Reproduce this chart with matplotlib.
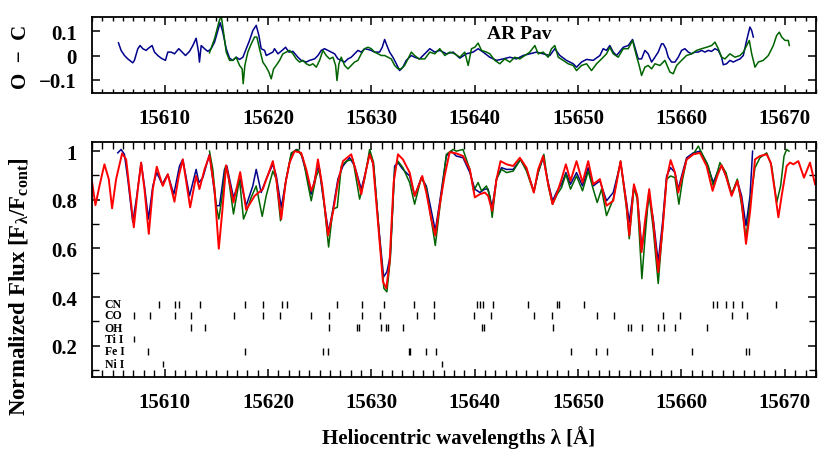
import numpy as np
import matplotlib
matplotlib.use("Agg")
import matplotlib.pyplot as plt
from matplotlib.ticker import MultipleLocator

# ---- data ---------------------------------------------------------------
# synthetic spectrum (red)
model = [(15603.00, 0.871), (15603.32, 0.778), (15603.71, 0.857), (15604.19, 0.946), (15604.61, 0.885),
         (15604.93, 0.765), (15605.32, 0.885), (15605.90, 0.991), (15606.29, 0.966), (15606.61, 0.844),
         (15607.03, 0.687), (15607.42, 0.844), (15607.74, 0.953), (15608.06, 0.844), (15608.48, 0.660),
         (15608.87, 0.844), (15609.25, 0.936), (15609.83, 0.857), (15610.32, 0.905), (15610.96, 0.792),
         (15611.38, 0.898), (15611.77, 0.966), (15612.48, 0.769), (15613.06, 0.898), (15613.38, 0.844),
         (15613.87, 0.925), (15614.35, 0.983), (15614.83, 0.844), (15615.25, 0.599), (15615.58, 0.749),
         (15615.96, 0.942), (15616.67, 0.789), (15617.32, 0.914), (15617.90, 0.759), (15618.71, 0.816),
         (15619.51, 0.844), (15620.48, 0.959), (15620.81, 0.885), (15621.29, 0.721), (15621.71, 0.871),
         (15622.10, 0.953), (15622.58, 1.000), (15623.22, 0.993), (15623.71, 0.925), (15624.19, 0.837),
         (15624.51, 0.871), (15624.84, 0.966), (15625.26, 0.857), (15625.81, 0.653), (15626.29, 0.748),
         (15626.77, 0.871), (15627.26, 0.959), (15628.06, 0.987), (15628.55, 0.912), (15629.03, 0.823),
         (15629.51, 0.925), (15629.84, 0.987), (15630.16, 0.953), (15630.64, 0.708), (15631.13, 0.463),
         (15631.45, 0.436), (15631.77, 0.544), (15632.16, 0.871), (15632.58, 0.987), (15633.06, 0.966),
         (15633.71, 0.912), (15634.19, 0.816), (15634.51, 0.850), (15634.93, 0.898), (15635.32, 0.830),
         (15635.80, 0.721), (15636.19, 0.653), (15636.61, 0.776), (15637.09, 0.898), (15637.58, 0.996),
         (15638.22, 0.991), (15638.87, 0.980), (15639.53, 0.925), (15640.01, 0.810), (15640.50, 0.823),
         (15640.98, 0.830), (15641.30, 0.816), (15641.69, 0.755), (15642.11, 0.885), (15642.50, 0.959),
         (15643.08, 0.946), (15643.72, 0.939), (15644.37, 0.973), (15645.01, 0.932), (15645.72, 0.830),
         (15646.14, 0.925), (15646.62, 0.980), (15647.01, 0.885), (15647.53, 0.782), (15647.98, 0.830),
         (15648.40, 0.885), (15648.82, 0.946), (15649.27, 0.878), (15649.85, 0.959), (15650.43, 0.871),
         (15650.98, 0.959), (15651.46, 0.864), (15652.11, 0.885), (15652.75, 0.776), (15653.40, 0.796),
         (15654.11, 0.959), (15654.69, 0.776), (15654.95, 0.653), (15655.40, 0.864), (15655.72, 0.816),
         (15656.14, 0.585), (15656.46, 0.708), (15656.88, 0.844), (15657.27, 0.708), (15657.75, 0.503),
         (15658.17, 0.680), (15658.56, 0.885), (15658.95, 0.963), (15659.37, 0.912), (15659.69, 0.830),
         (15660.01, 0.885), (15660.50, 0.966), (15661.14, 0.987), (15661.79, 0.993), (15662.43, 0.939),
         (15663.01, 0.837), (15663.46, 0.898), (15663.88, 0.942), (15664.30, 0.898), (15664.85, 0.816),
         (15665.40, 0.878), (15665.82, 0.796), (15666.24, 0.619), (15666.63, 0.749), (15667.11, 0.966),
         (15667.59, 0.980), (15668.24, 0.987), (15668.63, 0.953), (15669.05, 0.830), (15669.37, 0.728),
         (15669.69, 0.816), (15670.17, 0.939), (15670.50, 0.953), (15670.82, 0.946), (15671.30, 0.959),
         (15671.85, 0.891), (15672.43, 0.953), (15672.92, 0.864)]

# observed spectrum 1 (blue)
obs_blue = [(15605.48, 0.993), (15605.80, 1.007), (15606.12, 0.987), (15606.45, 0.885), (15606.93, 0.708),
            (15607.32, 0.816), (15607.74, 0.953), (15608.06, 0.857), (15608.45, 0.721), (15608.87, 0.857),
            (15609.25, 0.912), (15609.77, 0.864), (15610.32, 0.905), (15610.90, 0.823), (15611.45, 0.939),
            (15611.77, 0.966), (15612.42, 0.816), (15613.06, 0.925), (15613.32, 0.871), (15613.71, 0.891),
            (15614.35, 0.987), (15615.00, 0.776), (15615.32, 0.776), (15615.80, 0.925), (15616.03, 0.939),
            (15616.67, 0.810), (15617.32, 0.885), (15617.90, 0.776), (15618.54, 0.857), (15618.87, 0.925),
            (15619.35, 0.830), (15619.83, 0.885), (15620.48, 0.946), (15620.81, 0.900), (15621.29, 0.769),
            (15621.77, 0.885), (15622.26, 0.987), (15622.74, 1.007), (15623.22, 0.987), (15623.71, 0.912),
            (15624.19, 0.823), (15624.68, 0.912), (15624.93, 0.939), (15625.32, 0.816), (15625.87, 0.667),
            (15626.29, 0.762), (15626.77, 0.885), (15627.26, 0.939), (15627.90, 0.973), (15628.39, 0.939),
            (15629.03, 0.844), (15629.51, 0.925), (15629.84, 0.993), (15630.22, 0.939), (15630.74, 0.680),
            (15631.19, 0.483), (15631.51, 0.504), (15631.84, 0.572), (15632.26, 0.939), (15632.58, 0.953),
            (15633.06, 0.925), (15633.71, 0.898), (15634.19, 0.816), (15634.84, 0.891), (15635.32, 0.857),
            (15636.19, 0.674), (15636.61, 0.789), (15637.26, 0.980), (15637.74, 1.000), (15638.22, 0.980),
            (15638.87, 0.973), (15639.53, 0.912), (15640.01, 0.844), (15640.50, 0.830), (15640.98, 0.844),
            (15641.30, 0.844), (15641.69, 0.769), (15642.11, 0.885), (15642.59, 0.932), (15643.08, 0.925),
            (15643.72, 0.925), (15644.43, 0.966), (15645.01, 0.925), (15645.72, 0.837), (15646.14, 0.912),
            (15646.62, 0.973), (15647.11, 0.871), (15647.53, 0.796), (15647.98, 0.837), (15648.40, 0.864),
            (15648.82, 0.912), (15649.27, 0.864), (15649.85, 0.912), (15650.43, 0.857), (15650.98, 0.932),
            (15651.46, 0.857), (15652.11, 0.878), (15652.75, 0.796), (15653.40, 0.830), (15654.11, 0.953),
            (15654.69, 0.789), (15654.95, 0.708), (15655.40, 0.857), (15655.72, 0.816), (15656.17, 0.599),
            (15656.49, 0.694), (15656.85, 0.823), (15657.27, 0.721), (15657.75, 0.544), (15658.17, 0.708),
            (15658.56, 0.898), (15658.95, 0.932), (15659.37, 0.912), (15659.69, 0.844), (15660.01, 0.898),
            (15660.50, 0.973), (15661.14, 0.993), (15661.79, 1.000), (15662.43, 0.953), (15663.08, 0.871),
            (15663.46, 0.912), (15663.88, 0.939), (15664.30, 0.898), (15664.85, 0.823), (15665.40, 0.878),
            (15665.82, 0.816), (15666.24, 0.694), (15666.63, 0.816), (15666.88, 1.000)]

# observed spectrum 2 (green)
obs_green = [(15614.35, 1.000), (15614.67, 0.925), (15615.00, 0.776), (15615.25, 0.721), (15615.58, 0.816),
             (15615.90, 0.939), (15616.12, 0.912), (15616.67, 0.742), (15617.09, 0.844), (15617.25, 0.885),
             (15617.64, 0.721), (15617.90, 0.748), (15618.38, 0.810), (15618.87, 0.857), (15619.45, 0.732),
             (15619.83, 0.816), (15620.48, 0.918), (15620.81, 0.885), (15621.22, 0.714), (15621.77, 0.885),
             (15622.26, 0.993), (15622.90, 1.007), (15623.39, 0.973), (15623.87, 0.864), (15624.19, 0.796),
             (15624.68, 0.898), (15625.00, 0.925), (15625.39, 0.803), (15625.87, 0.606), (15626.29, 0.762),
             (15626.71, 0.769), (15627.10, 0.939), (15627.58, 0.959), (15628.22, 0.966), (15628.87, 0.803),
             (15629.35, 0.885), (15629.84, 1.007), (15630.22, 0.953), (15630.80, 0.640), (15631.22, 0.436),
             (15631.51, 0.422), (15631.84, 0.558), (15632.26, 0.925), (15632.58, 0.959), (15633.06, 0.932),
             (15633.71, 0.871), (15634.19, 0.782), (15634.84, 0.891), (15635.32, 0.850), (15636.19, 0.612),
             (15636.61, 0.762), (15637.26, 0.987), (15637.90, 1.007), (15638.22, 1.000), (15638.87, 1.007),
             (15639.53, 0.925), (15639.91, 0.837), (15640.33, 0.871), (15640.66, 0.837), (15641.14, 0.857),
             (15641.46, 0.816), (15641.69, 0.728), (15642.11, 0.885), (15642.59, 0.925), (15643.08, 0.912),
             (15643.72, 0.918), (15644.43, 0.966), (15645.01, 0.918), (15645.72, 0.830), (15646.14, 0.912),
             (15646.69, 0.987), (15647.11, 0.857), (15647.53, 0.782), (15647.98, 0.823), (15648.40, 0.850),
             (15648.82, 0.905), (15649.27, 0.844), (15649.85, 0.898), (15650.43, 0.837), (15650.98, 0.918),
             (15651.46, 0.844), (15651.85, 0.789), (15652.27, 0.844), (15652.75, 0.735), (15653.40, 0.803),
             (15654.11, 0.959), (15654.69, 0.762), (15654.95, 0.640), (15655.40, 0.850), (15655.72, 0.803),
             (15656.17, 0.476), (15656.49, 0.653), (15656.85, 0.830), (15657.27, 0.680), (15657.75, 0.456),
             (15658.17, 0.680), (15658.56, 0.885), (15658.95, 0.898), (15659.37, 0.891), (15659.75, 0.782),
             (15660.11, 0.885), (15660.50, 0.966), (15661.14, 0.987), (15661.63, 1.021), (15662.11, 0.980),
             (15662.59, 0.939), (15663.08, 0.857), (15663.46, 0.912), (15663.72, 0.953), (15664.30, 0.912),
             (15664.85, 0.823), (15665.40, 0.885), (15665.82, 0.776), (15666.24, 0.640), (15666.63, 0.789),
             (15667.11, 0.932), (15667.59, 0.973), (15668.24, 0.993), (15668.72, 0.939), (15669.21, 0.789),
             (15669.59, 0.857), (15669.92, 0.980), (15670.17, 1.007), (15670.40, 1.000)]

# O - C residuals
oc_blue = [(15605.55, 0.052), (15605.80, 0.021), (15606.13, 0.000), (15606.45, -0.014), (15606.93, -0.030),
           (15607.09, -0.020), (15607.42, 0.028), (15607.64, 0.041), (15607.90, 0.028), (15608.22, 0.021),
           (15608.45, 0.030), (15608.80, 0.041), (15609.03, 0.014), (15609.35, 0.000), (15609.68, -0.011),
           (15610.09, -0.020), (15610.32, 0.014), (15610.64, 0.014), (15610.97, 0.007), (15611.38, 0.028),
           (15611.71, 0.014), (15612.03, 0.000), (15612.42, 0.017), (15612.74, 0.041), (15613.06, 0.071),
           (15613.29, 0.014), (15613.38, -0.027), (15613.55, 0.041), (15613.87, 0.028), (15614.19, 0.017),
           (15614.51, 0.028), (15614.84, 0.055), (15615.16, 0.103), (15615.38, 0.135), (15615.64, 0.096),
           (15615.97, 0.028), (15616.29, -0.011), (15616.61, -0.020), (15616.93, -0.007), (15617.26, -0.016),
           (15617.58, -0.007), (15617.90, 0.028), (15618.22, 0.062), (15618.55, 0.103), (15618.87, 0.124),
           (15619.13, 0.082), (15619.35, 0.028), (15619.68, 0.021), (15619.84, 0.000), (15620.16, 0.007),
           (15620.48, 0.014), (15620.64, 0.028), (15620.97, 0.007), (15621.38, 0.021), (15621.71, 0.034),
           (15622.03, 0.014), (15622.42, 0.017), (15622.90, -0.007), (15623.22, -0.020), (15623.71, -0.027),
           (15624.03, -0.020), (15624.51, -0.014), (15624.84, 0.000), (15625.16, 0.021), (15625.48, 0.028),
           (15625.80, 0.021), (15626.13, 0.014), (15626.45, 0.007), (15626.77, -0.014), (15627.09, -0.020),
           (15627.42, -0.027), (15627.74, -0.014), (15628.06, -0.007), (15628.38, 0.007), (15628.71, 0.021),
           (15629.03, 0.014), (15629.35, 0.028), (15629.68, 0.025), (15630.00, 0.021), (15630.32, 0.014),
           (15630.80, 0.014), (15631.06, 0.034), (15631.29, 0.066), (15631.51, 0.041), (15631.77, 0.014),
           (15632.09, -0.007), (15632.42, -0.034), (15632.74, -0.062), (15633.06, -0.048), (15633.38, -0.020),
           (15633.87, 0.000), (15634.19, -0.007), (15634.68, -0.014), (15635.17, 0.007), (15635.66, 0.028),
           (15636.14, 0.014), (15636.62, 0.021), (15637.27, 0.007), (15637.91, 0.014), (15638.56, -0.011),
           (15639.20, 0.007), (15639.85, 0.014), (15640.33, 0.028), (15640.82, 0.014), (15641.46, -0.007),
           (15642.11, -0.020), (15642.75, -0.014), (15643.40, -0.007), (15644.04, -0.014), (15644.69, 0.000),
           (15645.33, 0.007), (15645.98, 0.014), (15646.62, 0.007), (15647.27, 0.000), (15647.75, 0.028),
           (15648.24, 0.000), (15648.88, -0.020), (15649.53, -0.034), (15649.85, -0.048), (15650.33, -0.027),
           (15650.82, -0.016), (15651.46, -0.020), (15652.11, 0.000), (15652.43, 0.028), (15652.75, 0.021),
           (15653.07, 0.041), (15653.40, 0.014), (15653.72, 0.000), (15654.37, 0.034), (15654.85, 0.041),
           (15655.27, 0.066), (15655.49, 0.034), (15655.82, -0.014), (15656.14, -0.014), (15656.46, 0.021),
           (15656.78, 0.007), (15657.11, -0.027), (15657.43, -0.007), (15657.75, 0.014), (15658.07, 0.048),
           (15658.24, 0.048), (15658.49, 0.028), (15658.72, -0.007), (15659.04, -0.027), (15659.37, -0.027),
           (15659.69, -0.007), (15660.01, 0.021), (15660.33, 0.028), (15660.66, 0.014), (15660.98, 0.007),
           (15661.30, 0.014), (15661.62, 0.014), (15661.95, 0.021), (15662.27, 0.014), (15662.59, 0.021),
           (15662.91, 0.017), (15663.24, 0.028), (15663.56, 0.021), (15663.88, -0.007), (15664.04, -0.038),
           (15664.36, -0.034), (15664.69, -0.020), (15665.01, -0.027), (15665.33, -0.020), (15665.66, -0.014),
           (15665.98, 0.000), (15666.30, 0.062), (15666.62, 0.117), (15666.79, 0.103), (15666.95, 0.076)]

oc_green = [(15614.35, 0.011), (15614.84, 0.069), (15615.26, 0.137), (15615.48, 0.165), (15615.71, 0.096),
            (15615.97, 0.014), (15616.29, -0.020), (15616.61, -0.020), (15616.93, -0.007), (15617.26, -0.041),
            (15617.51, -0.055), (15617.61, -0.116), (15617.77, -0.041), (15618.06, 0.014), (15618.39, 0.048),
            (15618.71, 0.076), (15618.93, 0.076), (15619.19, 0.028), (15619.51, -0.027), (15619.84, -0.048),
            (15620.09, -0.068), (15620.32, -0.096), (15620.55, -0.055), (15620.80, -0.041), (15621.13, -0.020),
            (15621.45, 0.007), (15621.77, 0.014), (15622.10, 0.021), (15622.42, 0.007), (15622.74, -0.014),
            (15623.06, -0.027), (15623.38, -0.020), (15623.71, -0.034), (15624.03, -0.041), (15624.35, -0.034),
            (15624.68, -0.048), (15625.00, -0.020), (15625.32, 0.021), (15625.64, 0.000), (15625.97, -0.014),
            (15626.29, -0.007), (15626.55, -0.041), (15626.68, -0.103), (15626.87, -0.034), (15627.09, -0.007),
            (15627.42, -0.041), (15627.74, -0.055), (15628.06, -0.041), (15628.38, -0.027), (15628.71, -0.020),
            (15629.03, 0.007), (15629.35, 0.028), (15629.68, 0.034), (15630.00, 0.028), (15630.32, 0.014),
            (15630.65, 0.007), (15630.97, 0.000), (15631.29, 0.000), (15631.61, -0.007), (15631.93, -0.014),
            (15632.26, -0.041), (15632.58, -0.055), (15632.90, -0.055), (15633.22, -0.041), (15633.55, -0.014),
            (15633.87, 0.014), (15634.19, 0.000), (15634.61, -0.014), (15635.17, -0.014), (15635.66, 0.014),
            (15636.14, 0.007), (15636.62, 0.028), (15637.11, 0.000), (15637.59, 0.014), (15638.07, 0.007),
            (15638.56, -0.007), (15639.04, 0.014), (15639.37, -0.041), (15639.69, 0.028), (15640.01, 0.034),
            (15640.33, 0.051), (15640.66, 0.021), (15641.14, 0.014), (15641.46, 0.007), (15641.95, -0.020),
            (15642.43, -0.034), (15642.91, -0.014), (15643.40, -0.027), (15643.88, -0.007), (15644.37, -0.014),
            (15644.85, 0.000), (15645.33, 0.014), (15645.82, 0.041), (15646.14, 0.007), (15646.62, 0.014),
            (15647.11, -0.007), (15647.43, 0.028), (15647.75, 0.041), (15648.08, -0.007), (15648.56, -0.020),
            (15649.04, -0.034), (15649.53, -0.041), (15649.85, -0.062), (15650.33, -0.041), (15650.82, -0.034),
            (15651.30, -0.062), (15651.79, -0.034), (15652.27, -0.014), (15652.75, 0.007), (15653.07, 0.034),
            (15653.40, 0.007), (15653.88, -0.007), (15654.37, 0.028), (15654.85, 0.028), (15655.27, 0.062),
            (15655.59, 0.007), (15655.91, -0.041), (15656.14, -0.082), (15656.46, -0.048), (15656.78, -0.041),
            (15657.11, -0.055), (15657.43, -0.034), (15657.91, -0.041), (15658.40, -0.020), (15658.88, -0.068),
            (15659.20, -0.075), (15659.53, -0.041), (15660.01, -0.020), (15660.49, 0.000), (15660.98, 0.007),
            (15661.46, 0.021), (15661.95, 0.028), (15662.43, 0.034), (15662.91, 0.041), (15663.24, 0.055),
            (15663.56, 0.028), (15663.88, -0.007), (15664.20, -0.014), (15664.69, 0.007), (15665.17, -0.007),
            (15665.66, 0.000), (15665.98, 0.014), (15666.30, 0.041), (15666.56, 0.062), (15666.79, 0.007),
            (15667.11, -0.048), (15667.43, -0.027), (15667.91, -0.020), (15668.40, 0.000), (15668.88, 0.041),
            (15669.20, 0.082), (15669.46, 0.096), (15669.69, 0.076), (15670.01, 0.062), (15670.33, 0.062),
            (15670.43, 0.041)]

# line identifications
species = ["CN", "CO", "OH", "Ti I", "Fe I", "Ni I"]
species_y = [0.370, 0.325, 0.275, 0.228, 0.178, 0.125]
cn_lines = [15609.42, 15610.97, 15611.38, 15613.39, 15617.81, 15619.49, 15621.33, 15621.88, 15626.65,
            15629.10, 15631.20, 15634.13, 15636.11, 15640.27, 15640.52, 15640.78, 15641.78, 15645.11,
            15647.98, 15648.11, 15650.53, 15663.08, 15663.41, 15664.28, 15665.02, 15665.86, 15669.15]
co_lines = [15607.03, 15608.64, 15610.97, 15612.52, 15616.71, 15619.49, 15621.16, 15624.16, 15625.88,
            15629.13, 15630.88, 15634.42, 15636.11, 15639.94, 15641.62, 15645.75, 15647.43, 15651.82,
            15653.47, 15658.18, 15659.83, 15664.89, 15666.37]
oh_lines = [15612.58, 15613.87, 15625.94, 15628.65, 15628.81, 15630.91, 15631.46, 15631.59, 15633.07,
            15640.66, 15640.91, 15647.59, 15654.85, 15655.08, 15656.18, 15657.72, 15658.31, 15659.40,
            15662.44]
ti_lines = [15607.03]
fe_lines = [15608.45, 15617.81, 15625.36, 15625.81, 15633.62, 15633.78, 15635.33, 15636.23, 15649.27,
            15651.69, 15652.76, 15657.17, 15660.99, 15666.24, 15666.56]
ni_lines = [15609.90, 15636.85]
line_lists = [cn_lines, co_lines, oh_lines, ti_lines, fe_lines, ni_lines]

# ---- style ---------------------------------------------------------------
plt.rcParams['font.family'] = ['Liberation Serif', 'DejaVu Serif']
plt.rcParams['font.weight'] = 'bold'
plt.rcParams['mathtext.fontset'] = 'custom'
plt.rcParams['mathtext.rm'] = 'Liberation Serif:bold'
plt.rcParams['mathtext.it'] = 'Liberation Serif:bold'
plt.rcParams['mathtext.bf'] = 'Liberation Serif:bold'
plt.rcParams['axes.linewidth'] = 1.3
plt.rcParams['lines.solid_joinstyle'] = 'round'

BLUE = '#00008b'
GREEN = '#006400'
RED = '#ff0000'
FS = 15


def style_axis(ax):
    ax.xaxis.set_major_locator(MultipleLocator(10))
    ax.xaxis.set_minor_locator(MultipleLocator(1))
    ax.tick_params(which='both', direction='in', top=True, right=True, labelsize=FS)
    ax.tick_params(which='major', length=6, width=1.1, pad=11)
    ax.tick_params(which='minor', length=3, width=1.0)
    ax.set_xlim(15603.0, 15673.0)


fig = plt.figure(figsize=(8.3, 4.64), dpi=100)
ax_top = fig.add_axes([0.111, 0.797, 0.872, 0.164])
ax = fig.add_axes([0.111, 0.185, 0.872, 0.507])

# top panel: O - C
for data, col in [(oc_blue, BLUE), (oc_green, GREEN)]:
    arr = np.array(data)
    ax_top.plot(arr[:, 0], arr[:, 1], color=col, lw=1.1)
style_axis(ax_top)
ax_top.set_ylim(-0.155, 0.158)
ax_top.set_yticks([-0.1, 0, 0.1])
ax_top.set_yticklabels(['\u22120.1', '0', '0.1'])
ax_top.yaxis.set_minor_locator(plt.NullLocator())
ax_top.text(15644.3, 0.09, 'AR Pav', fontsize=14, ha='center', va='center')
fig.text(0.025, 0.878, 'O  \u2212  C', rotation=90, ha='center', va='center', fontsize=FS)

# bottom panel: spectra
for data, col, lw in [(obs_blue, BLUE, 1.1), (obs_green, GREEN, 1.1), (model, RED, 1.4)]:
    arr = np.array(data)
    ax.plot(arr[:, 0], arr[:, 1], color=col, lw=lw)

for name, yv, lines in zip(species, species_y, line_lists):
    ax.text(15604.2, yv, name, fontsize=8.5, ha='left', va='center')
    ax.vlines(lines, yv - 0.014, yv + 0.014, color='black', lw=1.0)

style_axis(ax)
ax.set_ylim(0.071, 1.038)
ax.yaxis.set_major_locator(MultipleLocator(0.2))
ax.yaxis.set_minor_locator(MultipleLocator(0.1))
ax.set_yticks([0.2, 0.4, 0.6, 0.8, 1.0])
ax.set_yticklabels(['0.2', '0.4', '0.6', '0.8', '1'])
ax.tick_params(which='minor', length=5)

fig.text(0.022, 0.382, r'Normalized Flux [F$_{\lambda}$/F$_{\rm cont}$]', rotation=90,
         ha='center', va='center', fontsize=16.5)
fig.text(0.553, 0.056, 'Heliocentric wavelengths \u03bb [\u00c5]', ha='center', va='center', fontsize=FS)

fig.savefig('out.png', dpi=100)
